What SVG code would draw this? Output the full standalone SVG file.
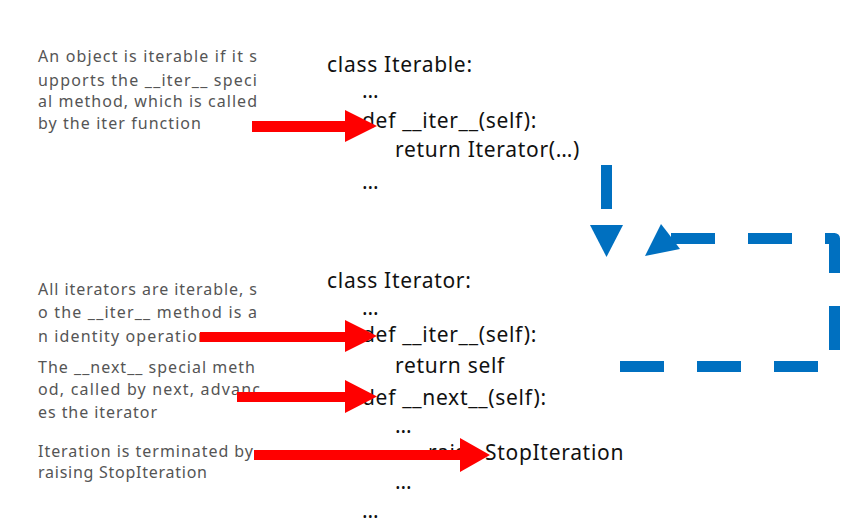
<svg xmlns="http://www.w3.org/2000/svg" width="863" height="528" viewBox="0 0 863 528">
<style>
.note{font-family:"Noto Sans","Open Sans",sans-serif;font-size:16px;fill:#555;}
.code{font-family:"Noto Sans","Open Sans",sans-serif;font-size:21px;fill:#111;letter-spacing:0.7px;}
.red{fill:#ff0000;}
.blue{fill:#0070c0;}
.bline{fill:none;stroke:#0070c0;stroke-width:11;}
</style>
<rect width="863" height="528" fill="#fff"/>
<g id="note-iterable">
<text class="note" x="38" y="62" textLength="219" lengthAdjust="spacing">An object is iterable if it s</text>
<text class="note" x="38" y="86" textLength="219" lengthAdjust="spacing">upports the __iter__ speci</text>
<text class="note" x="38" y="107" textLength="219" lengthAdjust="spacing">al method, which is called</text>
<text class="note" x="38" y="129" textLength="163" lengthAdjust="spacing">by the iter function</text>
</g>
<g id="code-iterable">
<text class="code" x="327" y="72">class Iterable:</text>
<text class="code" x="362" y="98">…</text>
<text class="code" x="362" y="128">def __iter__(self):</text>
<text class="code" x="395" y="157">return Iterator(…)</text>
<text class="code" x="362" y="189">…</text>
</g>
<g id="note-iter-identity">
<text class="note" x="38" y="295" textLength="219" lengthAdjust="spacing">All iterators are iterable, s</text>
<text class="note" x="38" y="318" textLength="219" lengthAdjust="spacing">o the __iter__ method is a</text>
<text class="note" x="38" y="342" textLength="170" lengthAdjust="spacing">n identity operation</text>
</g>
<g id="note-next">
<text class="note" x="38" y="373" textLength="217" lengthAdjust="spacing">The __next__ special meth</text>
<text class="note" x="38" y="395" textLength="222" lengthAdjust="spacing">od, called by next, advanc</text>
<text class="note" x="38" y="418" textLength="119" lengthAdjust="spacing">es the iterator</text>
</g>
<g id="note-stop">
<text class="note" x="38" y="457" textLength="215" lengthAdjust="spacing">Iteration is terminated by</text>
<text class="note" x="38" y="478" textLength="169" lengthAdjust="spacing">raising StopIteration</text>
</g>
<g id="code-iterator">
<text class="code" x="327" y="288">class Iterator:</text>
<text class="code" x="362" y="315">…</text>
<text class="code" x="362" y="342">def __iter__(self):</text>
<text class="code" x="395" y="373">return self</text>
<text class="code" x="362" y="405">def __next__(self):</text>
<text class="code" x="395" y="433">…</text>
<text class="code" x="428" y="460">raise StopIteration</text>
<text class="code" x="395" y="489">…</text>
<text class="code" x="362" y="518">…</text>
</g>
<g id="connectors">
<polygon class="red" points="252,121 345,121 345,110 377,126 345,142 345,132 252,132"/>
<polygon class="red" points="200,332 345,332 345,320 377,336 345,352 345,342 200,342"/>
<polygon class="red" points="237,392 345,392 345,380 377,396.5 345,413 345,402 237,402"/>
<polygon class="red" points="254,450 460,450 460,438 490,455 460,472 460,460 254,460"/>
<line class="bline" x1="606.5" y1="165" x2="606.5" y2="209"/>
<polygon class="blue" points="590,225 623,225 606.5,257"/>
<path class="bline" d="M620,366.5 H834.5 V238.5 H670" stroke-dasharray="44 33" stroke-linejoin="round"/>
<polygon class="blue" points="645,256 661,224 668,233 680,249"/>
</g>
</svg>
